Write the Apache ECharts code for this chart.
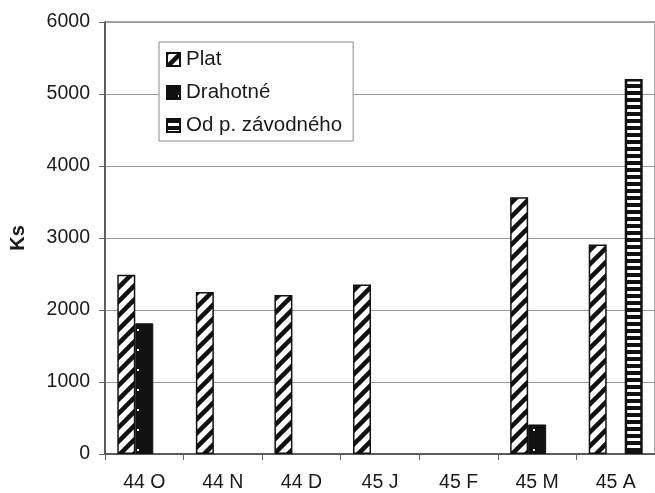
<!DOCTYPE html>
<html>
<head>
<meta charset="utf-8">
<script src="https://cdn.jsdelivr.net/npm/echarts@6/dist/echarts.min.js"></script>
<style>
html,body{margin:0;padding:0;background:#fff;}
#chart{width:655px;height:493px;}
</style>
</head>
<body>
<div id="chart"></div>
<script>
const categories = ['44 O', '44 N', '44 D', '45 J', '45 F', '45 M', '45 A'];
const seriesNames = ['Plat', 'Drahotné', 'Od p. závodného'];
const plat = [2490, 2250, 2210, 2355, null, 3565, 2910];
const drahotne = [1815, null, null, null, null, 410, null];
const odPZavodneho = [null, null, null, null, null, null, 5210];
const yTicks = { min: 0, max: 6000, interval: 1000 };

function makePattern(w, h, draw) {
  const c = document.createElement('canvas');
  c.width = w; c.height = h;
  const ctx = c.getContext('2d');
  draw(ctx, w, h);
  return c;
}
// diagonal "/" stripes
const diagPat = makePattern(14, 14, (ctx, w, h) => {
  ctx.fillStyle = '#fff'; ctx.fillRect(0, 0, w, h);
  ctx.strokeStyle = '#111'; ctx.lineWidth = 4.5; ctx.lineCap = 'square';
  for (let k = -1; k <= 1; k++) {
    ctx.beginPath();
    ctx.moveTo(k * w - 2, h + 2);
    ctx.lineTo(k * w + w + 2, -2);
    ctx.stroke();
  }
});
// black with white dots
const dotPat = makePattern(18, 20, (ctx, w, h) => {
  ctx.fillStyle = '#111'; ctx.fillRect(0, 0, w, h);
  ctx.fillStyle = '#fff';
  ctx.fillRect(11, 9, 2, 2);
});
// horizontal stripes
const hPat = makePattern(4, 7, (ctx, w, h) => {
  ctx.fillStyle = '#111'; ctx.fillRect(0, 0, w, h);
  ctx.fillStyle = '#fff'; ctx.fillRect(0, 4, w, 3);
});

const font = '"Liberation Sans", Arial, sans-serif';
const chart = echarts.init(document.getElementById('chart'), null, { renderer: 'canvas' });
chart.setOption({
  animation: false,
  backgroundColor: '#fff',
  textStyle: { fontFamily: font },
  grid: {
    left: 105, top: 22, right: 0, bottom: 39,
    show: true, borderColor: '#555', borderWidth: 1, backgroundColor: 'transparent'
  },
  legend: {
    left: 159, top: 42, orient: 'vertical',
    icon: 'rect', itemWidth: 13, itemHeight: 13, itemGap: 12,
    padding: [7, 11, 5, 7],
    backgroundColor: '#fff', borderColor: '#888', borderWidth: 1,
    selectedMode: false,
    textStyle: { fontSize: 20.5, color: '#1a1a1a', fontFamily: font, lineHeight: 21, padding: [0, 0, 0, 1] },
    data: seriesNames
  },
  xAxis: {
    type: 'category',
    data: categories,
    axisLine: { lineStyle: { color: '#444', width: 1.5 } },
    axisTick: { show: true, length: 6, lineStyle: { color: '#666' } },
    axisLabel: { fontSize: 19.5, color: '#1a1a1a', margin: 19, fontFamily: font }
  },
  yAxis: {
    type: 'value',
    min: yTicks.min, max: yTicks.max, interval: yTicks.interval,
    name: 'Ks', nameLocation: 'middle', nameGap: 77, nameRotate: 90,
    nameTextStyle: { fontSize: 20, fontWeight: 'bold', color: '#1a1a1a', fontFamily: font },
    axisLine: { show: true, lineStyle: { color: '#444', width: 1.5 } },
    axisTick: { show: true, length: 6, lineStyle: { color: '#666' } },
    axisLabel: { fontSize: 19.5, color: '#1a1a1a', margin: 15, fontFamily: font, formatter: v => String(v) },
    splitLine: { show: true, lineStyle: { color: '#999', width: 1 } }
  },
  series: [
    {
      name: seriesNames[0], type: 'bar', data: plat, barWidth: 18, barGap: '0%',
      itemStyle: { color: { image: diagPat, repeat: 'repeat' }, borderColor: '#111', borderWidth: 1.5 }
    },
    {
      name: seriesNames[1], type: 'bar', data: drahotne, barWidth: 18, barGap: '0%',
      itemStyle: { color: { image: dotPat, repeat: 'repeat' }, borderColor: '#111', borderWidth: 1 }
    },
    {
      name: seriesNames[2], type: 'bar', data: odPZavodneho, barWidth: 18, barGap: '0%',
      itemStyle: { color: { image: hPat, repeat: 'repeat' }, borderColor: '#111', borderWidth: 2.5 }
    }
  ]
});
</script>
</body>
</html>
